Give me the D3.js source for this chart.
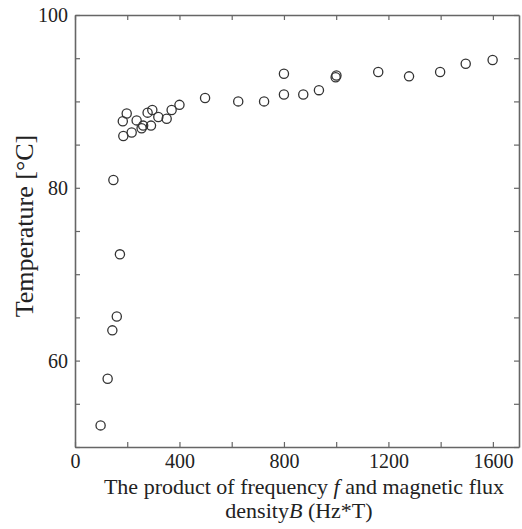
<!DOCTYPE html>
<html>
<head>
<meta charset="utf-8">
<script src="https://cdn.jsdelivr.net/npm/d3@7"></script>
<style>
  body { margin: 0; background: #fff; }
  .axis path, .axis line { stroke: #666; }
  .axis path { stroke-width: 1.6; }
  .axis line { stroke-width: 1.2; }
</style>
</head>
<body>
<div id="container"></div>
<script>
// product f*B (Hz*T) and temperature (°C)
var fbValues = [98, 125, 143, 160, 172, 147,
    185, 217, 198, 183, 236, 255, 261, 291, 278, 296, 319, 351, 370, 400, 498,
    625, 724, 800, 800, 874, 934, 998, 1001, 1161, 1279, 1398, 1496, 1599];
var tempValues = [52.5, 57.9, 63.5, 65.1, 72.3, 80.9,
    86.0, 86.4, 88.6, 87.7, 87.8, 86.9, 87.2, 87.2, 88.7, 89.0, 88.2, 88.0, 89.0, 89.6, 90.4,
    90.0, 90.0, 93.2, 90.8, 90.8, 91.3, 92.8, 93.0, 93.4, 92.9, 93.4, 94.35, 94.8];

var xTicks = [0, 200, 400, 600, 800, 1000, 1200, 1400, 1600];
var xLabels = [0, 400, 800, 1200, 1600];
var yTicks = [50, 55, 60, 65, 70, 75, 80, 85, 90, 95, 100];
var yLabels = [60, 80, 100];

var serif = "'Liberation Serif', 'Times New Roman', Times, 'DejaVu Serif', serif";

var margin = {top: 15, right: 3, bottom: 82, left: 75},
    width = 522,
    height = 529,
    innerW = width - margin.left - margin.right,
    innerH = height - margin.top - margin.bottom;

var svg = d3.select("#container").append("svg")
    .attr("width", width)
    .attr("height", height);

var g = svg.append("g")
    .attr("transform", "translate(" + margin.left + "," + margin.top + ")");

var x = d3.scaleLinear().domain([0, 1700]).range([0, innerW]);
var y = d3.scaleLinear().domain([50, 100]).range([innerH, 0]);

function xFmt(d) { return xLabels.indexOf(d) >= 0 ? d : ""; }
function yFmt(d) { return yLabels.indexOf(d) >= 0 ? d : ""; }

// bottom + left with labels, top + right ticks only
g.append("g").attr("class", "axis")
    .attr("transform", "translate(0," + innerH + ")")
    .call(d3.axisBottom(x).tickValues(xTicks).tickFormat(xFmt).tickSize(-5).tickSizeOuter(0).tickPadding(7));
g.append("g").attr("class", "axis")
    .call(d3.axisTop(x).tickValues(xTicks).tickFormat("").tickSize(-5).tickSizeOuter(0));
g.append("g").attr("class", "axis")
    .call(d3.axisLeft(y).tickValues(yTicks).tickFormat(yFmt).tickSize(-5).tickSizeOuter(0).tickPadding(7));
g.append("g").attr("class", "axis")
    .attr("transform", "translate(" + innerW + ",0)")
    .call(d3.axisRight(y).tickValues(yTicks).tickFormat("").tickSize(-5).tickSizeOuter(0));

g.selectAll(".axis").attr("font-family", serif);
g.selectAll(".axis text")
    .style("font-family", serif)
    .style("font-size", "20px")
    .style("fill", "#222");

g.selectAll("circle.pt")
    .data(fbValues)
    .enter().append("circle")
    .attr("class", "pt")
    .attr("cx", function(d) { return x(d); })
    .attr("cy", function(d, i) { return y(tempValues[i]); })
    .attr("r", 4.6)
    .style("fill", "none")
    .style("stroke", "#333")
    .style("stroke-width", 1.3);

// axis titles
var xt = svg.append("text")
    .attr("text-anchor", "middle")
    .attr("x", 304)
    .attr("y", 494)
    .style("font-family", serif)
    .style("font-size", "22px")
    .style("fill", "#222");
xt.append("tspan").text("The product of frequency ");
xt.append("tspan").style("font-style", "italic").text("f");
xt.append("tspan").text(" and magnetic flux");

var xt2 = svg.append("text")
    .attr("text-anchor", "middle")
    .attr("x", 299)
    .attr("y", 518)
    .style("font-family", serif)
    .style("font-size", "22px")
    .style("fill", "#222");
xt2.append("tspan").text("density");
xt2.append("tspan").style("font-style", "italic").text("B");
xt2.append("tspan").text(" (Hz*T)");

svg.append("text")
    .attr("text-anchor", "middle")
    .attr("transform", "translate(33,226) rotate(-90)")
    .style("font-family", serif)
    .style("font-size", "26px")
    .style("fill", "#222")
    .text("Temperature [°C]");
</script>
</body>
</html>
